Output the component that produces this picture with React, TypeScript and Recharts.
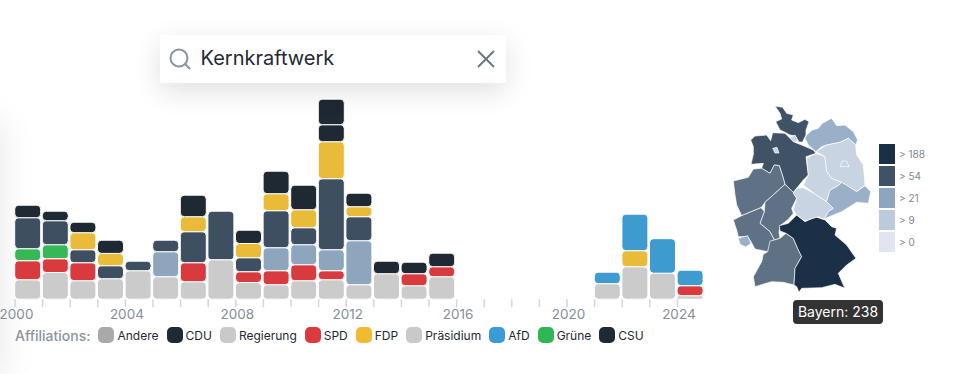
import React from 'react';
import { BarChart, Bar, XAxis, YAxis } from 'recharts';

const years = [2000, 2001, 2002, 2003, 2004, 2005, 2006, 2007, 2008, 2009, 2010, 2011, 2012, 2013, 2014, 2015, 2016, 2017, 2018, 2019, 2020, 2021, 2022, 2023, 2024];
const regierung = [19.5, 26.7, 18.5, 20.5, 28.5, 22.5, 17.5, 39.5, 16.7, 14.5, 18.5, 19.5, 14.5, 25.5, 13.5, 22.5, 0, 0, 0, 0, 0, 15.5, 32.5, 26, 3.5];
const spd = [19, 13.8, 18, 0, 0, 0, 19, 0, 10.8, 14, 16, 9, 0, 0, 12, 10, 0, 0, 0, 0, 0, 0, 0, 0, 10];
const gruene = [12, 14, 0, 0, 0, 0, 0, 0, 0, 0, 0, 0, 0, 0, 0, 0, 0, 0, 0, 0, 0, 0, 0, 0, 0];
const steel = [0, 0, 0, 0, 0, 25, 0, 0, 0, 23, 20, 21, 44, 0, 0, 0, 0, 0, 0, 0, 0, 0, 0, 0, 0];
const slate = [31, 24, 13, 13, 9.5, 11.5, 31, 48.5, 14, 37, 17, 71, 24, 0, 0, 0, 0, 0, 0, 0, 0, 0, 0, 0, 0];
const fdp = [0, 0, 17, 12.3, 0, 0, 15, 0, 14.2, 17, 18, 37, 10, 0, 0, 0, 0, 0, 0, 0, 0, 0, 16, 0, 0];
const afd = [0, 0, 0, 0, 0, 0, 0, 0, 0, 0, 0, 0, 0, 0, 0, 0, 0, 0, 0, 0, 0, 11.5, 36.5, 34.5, 15.5];
const cdu = [12.5, 9.5, 10.5, 13.2, 0, 0, 21.5, 0, 13.3, 22.5, 24.5, 17, 13.5, 12.5, 11.5, 13.5, 0, 0, 0, 0, 0, 0, 0, 0, 0];
const csu = [0, 0, 0, 0, 0, 0, 0, 0, 0, 0, 0, 25.5, 0, 0, 0, 0, 0, 0, 0, 0, 0, 0, 0, 0, 0];

const tickYears = [2000, 2004, 2008, 2012, 2016, 2020, 2024];

const legendNames = ['Andere', 'CDU', 'Regierung', 'SPD', 'FDP', 'Präsidium', 'AfD', 'Grüne', 'CSU'];
const legendColors = ['#a9a9a9', '#1f2933', '#c9c9c9', '#dc3a3e', '#f0bb30', '#c9c9c9', '#3a9bd6', '#2fb655', '#1f2933'];

const stateNames = ['Schleswig-Holstein', 'Mecklenburg-Vorpommern', 'Hamburg', 'Niedersachsen', 'Bremen', 'Nordrhein-Westfalen', 'Hessen', 'Rheinland-Pfalz', 'Saarland', 'Baden-Württemberg', 'Bayern', 'Thüringen', 'Sachsen-Anhalt', 'Brandenburg', 'Berlin', 'Sachsen'];
const stateColors = ['#3f5266', '#9ab0c8', '#c8d4e2', '#3f5266', '#c8d4e2', '#5f7285', '#5f7285', '#5f7285', '#9ab0c8', '#5f7285', '#1b2f47', '#c8d4e2', '#c8d4e2', '#c8d4e2', '#c8d4e2', '#9ab0c8'];

// outlines, in 3x crop units (origin 725,95)
const stateShapes = [
  '150,33 173,37 185,55 205,60 200,75 220,83 240,73 252,80 243,105 243,120 232,142 220,140 210,123 195,120 180,112 165,105 160,95 152,80 170,72 165,55',
  '245,120 262,105 280,100 292,85 320,70 335,92 360,90 385,110 398,135 392,150 370,130 345,142 305,150 290,155 273,170 250,150 240,130',
  '195,128 210,120 220,137 208,142',
  '77,135 90,123 125,120 137,137 143,113 180,115 205,140 230,150 265,165 273,175 243,185 250,240 235,255 205,292 180,268 172,240 163,212 148,210 135,235 110,220 115,205 78,208 85,178 85,155',
  '143,160 156,157 162,174 150,174',
  '25,258 70,247 85,222 110,220 135,235 148,210 163,212 172,240 180,268 150,295 120,322 108,338 50,362 35,330 30,300',
  '120,322 150,295 180,268 205,292 215,310 200,340 205,355 188,375 165,392 162,412 165,430 148,435 135,410 105,385 118,350',
  '25,375 50,362 108,338 118,350 105,385 135,410 148,435 128,470 90,462 78,440 68,425 40,425 35,405',
  '40,430 68,422 78,445 62,456 45,448',
  '135,438 148,435 165,430 183,415 205,430 220,465 230,485 210,520 207,570 175,562 140,560 90,575 85,545 110,500 115,478 128,470',
  '163,392 190,385 215,360 240,380 270,365 300,375 320,395 335,400 330,420 365,450 393,490 365,510 340,535 355,570 360,580 330,568 290,578 230,580 222,592 215,575 207,570 210,520 230,485 220,465 205,430 183,415 165,408',
  '205,295 215,280 235,278 270,297 305,320 325,340 310,350 298,372 280,365 240,378 215,360 205,345 215,310',
  '245,190 273,175 300,185 305,230 320,250 350,262 340,272 315,285 305,320 270,297 235,270 250,240',
  '273,170 305,150 345,142 370,130 392,150 395,180 415,210 420,270 395,290 360,268 350,262 320,250 305,230 300,185',
  '345,215 352,198 365,198 372,215',
  '315,285 340,272 350,262 360,268 395,290 420,272 437,290 430,325 395,322 350,350 320,362 298,372 310,350 325,340 305,320',
];

const scaleLabels = ['> 188', '> 54', '> 21', '> 9', '> 0'];
const scaleColors = ['#1b2f47', '#3f5266', '#8da5bf', '#bccbdb', '#dfe6f0'];

const rows = years.map((year, i) => ({
  year,
  regierung: regierung[i],
  spd: spd[i],
  gruene: gruene[i],
  steel: steel[i],
  slate: slate[i],
  fdp: fdp[i],
  afd: afd[i],
  cdu: cdu[i],
  csu: csu[i],
}));

const series: [string, string][] = [
  ['regierung', '#cbcbcb'],
  ['spd', '#d93a3e'],
  ['gruene', '#35b855'],
  ['steel', '#8da5bd'],
  ['slate', '#3d4f60'],
  ['fdp', '#e9bb38'],
  ['afd', '#3d9bd0'],
  ['cdu', '#1f2933'],
  ['csu', '#1f2933'],
];

const font = 'Inter, sans-serif';

function YearTick(props: any) {
  const { x, y, payload } = props;
  const band = 690 / years.length;
  const left = x - band / 2 + 1.3;
  const top = y - 8;
  return (
    <g>
      <line x1={left} x2={left} y1={top} y2={top + 8} stroke="#d4d6d9" strokeWidth={1.5} />
      {tickYears.includes(payload.value) && (
        <text x={left + 1.5} y={top + 20} textAnchor="middle" fontSize={13.5} fill="#848e9a" fontFamily={font}>
          {payload.value}
        </text>
      )}
    </g>
  );
}

export default function App() {
  return (
    <div style={{ position: 'absolute', left: 0, top: 0, width: 954, height: 374, overflow: 'hidden', background: '#fff', fontFamily: font }}>
      <div style={{ position: 'absolute', left: -40, top: 120, width: 40, height: 260, boxShadow: '0 0 36px rgba(0,0,0,0.1)' }} />

      <BarChart width={720} height={340} data={rows} margin={{ top: 0, right: 0, bottom: 0, left: 0 }} style={{ position: 'absolute', left: 0, top: 0 }} barCategoryGap={0}>
        <XAxis dataKey="year" interval={0} axisLine={false} tickLine={false} tick={<YearTick />} height={40.8} padding={{ left: 13.7, right: 16.3 }} />
        <YAxis hide domain={[0, 299.2]} allowDataOverflow />
        {series.map(([key, color]) => (
          <Bar key={key} dataKey={key} stackId="a" fill={color} stroke="#fff" strokeWidth={1} radius={4} barSize={26} isAnimationActive={false} />
        ))}
      </BarChart>

      <div style={{ position: 'absolute', left: 160, top: 35, width: 346, height: 48, background: '#fff', boxShadow: '0 8px 28px rgba(0,0,0,0.13)' }}>
        <svg width={24} height={24} style={{ position: 'absolute', left: 8, top: 12 }} fill="none" stroke="#8a949e" strokeWidth={2}>
          <circle cx={11} cy={11} r={8.5} />
          <line x1={17} y1={17} x2={22} y2={22} />
        </svg>
        <span style={{ position: 'absolute', left: 40.5, top: 11, fontSize: 20, lineHeight: '24px', color: '#1f2933' }}>Kernkraftwerk</span>
        <svg width={20} height={20} style={{ position: 'absolute', left: 316, top: 14 }} stroke="#6b7684" strokeWidth={2}>
          <line x1={2} y1={2} x2={18} y2={18} />
          <line x1={18} y1={2} x2={2} y2={18} />
        </svg>
      </div>

      <div style={{ position: 'absolute', left: 15, top: 325, height: 20, display: 'flex', alignItems: 'center', whiteSpace: 'nowrap' }}>
        <span style={{ fontSize: 14, fontWeight: 500, color: '#8a949e', marginRight: 8 }}>Affiliations:</span>
        {legendNames.map((name, i) => (
          <span key={name} style={{ display: 'flex', alignItems: 'center', marginRight: 8 }}>
            <span style={{ width: 16, height: 16, borderRadius: 5, background: legendColors[i], marginRight: 3 }} />
            <span style={{ fontSize: 12, color: '#1f2933' }}>{name}</span>
          </span>
        ))}
      </div>

      <svg width={210} height={235} viewBox="0 0 630 705" style={{ position: 'absolute', left: 725, top: 95 }}>
        {stateNames.map((name, i) => (
          <polygon key={name} points={stateShapes[i]} fill={stateColors[i]} stroke="#fff" strokeWidth={2} strokeLinejoin="round" />
        ))}
      </svg>

      {scaleLabels.map((label, i) => (
        <div key={label} style={{ position: 'absolute', left: 879, top: 144 + i * 22, height: 20, display: 'flex', alignItems: 'center' }}>
          <span style={{ width: 16, height: 20, background: scaleColors[i] }} />
          <span style={{ marginLeft: 4, fontSize: 10, color: '#7b8794' }}>{label}</span>
        </div>
      ))}

      <div style={{ position: 'absolute', left: 793, top: 300, width: 90, height: 24, borderRadius: 4, background: '#333', color: '#fff', fontSize: 14, lineHeight: '24px', textAlign: 'center' }}>
        Bayern: 238
      </div>
    </div>
  );
}
